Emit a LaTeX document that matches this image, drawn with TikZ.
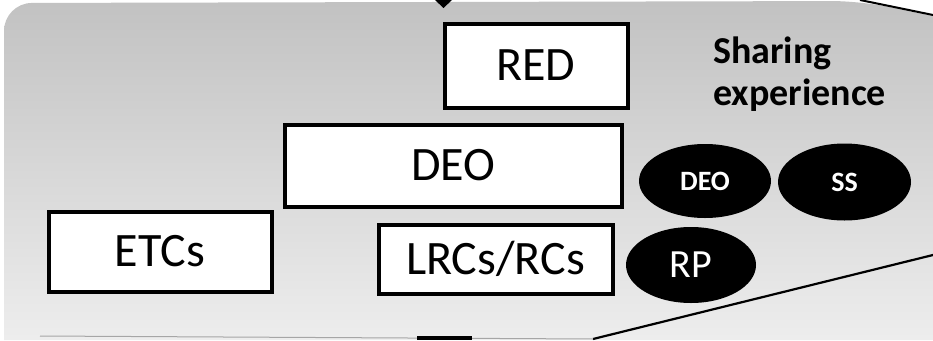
\documentclass[tikz,border=0pt]{standalone}
\usepackage{fontspec}
\setmainfont{Carlito}
\usetikzlibrary{shapes.geometric}
\tikzset{
  unitbox/.style={draw=black, fill=white, line width=4pt, inner sep=0pt,
    font=\fontsize{48}{52}\selectfont},
  teamoval/.style={ellipse, fill=black, text=white, inner sep=0pt},
  sharetext/.style={font=\fontsize{38}{42}\bfseries\selectfont, inner sep=0pt, anchor=base west},
}
\begin{document}
\begin{tikzpicture}[x=1pt,y=-1pt]
\useasboundingbox (0,0) rectangle (933,340);
% shaded backdrop
\shade[top color=gray!48, bottom color=gray!14]
  [rounded corners=28pt] (4,340) -- (4,3) -- (860,1) [sharp corners] -- (933,16) -- (933,340) -- cycle;
\draw[line width=2pt] (860,0) -- (933,15);
\coordinate (lowA) at (593,339);
\coordinate (lowB) at (933,255);
\draw[line width=2.2pt] (lowA) -- (lowB);
\draw[gray!70, line width=1pt] (40,336) -- (lowA);
\draw[line width=4pt] (417,338) -- (472,338);
\fill (435,0) -- (452,0) -- (443.5,8) -- cycle;

% organisational units
\node[unitbox, minimum width=183pt, minimum height=84pt] (red) at (536,65.5) {RED};
\node[unitbox, minimum width=337pt, minimum height=82pt] (deo) at (453,165.5) {DEO};
\node[unitbox, minimum width=223pt, minimum height=80pt] (etc) at (160,251.5) {ETCs};
\node[unitbox, minimum width=234pt, minimum height=69pt] (lrc) at (495.5,259) {LRCs/RCs};

% sharing-experience partners
\node[teamoval, minimum width=132pt, minimum height=74pt, font=\fontsize{28}{30}\bfseries\selectfont] (odeo) at (705,181) {DEO};
\node[teamoval, minimum width=133pt, minimum height=77pt, font=\fontsize{28}{30}\bfseries\selectfont] (oss) at (844.5,182) {SS};
\node[teamoval, minimum width=130pt, minimum height=76pt, font=\fontsize{40}{44}\selectfont] (orp) at (691,265) {RP};

\node[sharetext] (share1) at (713,63) {Sharing};
\node[sharetext] (share2) at (713,105) {experience};
\end{tikzpicture}
\end{document}
